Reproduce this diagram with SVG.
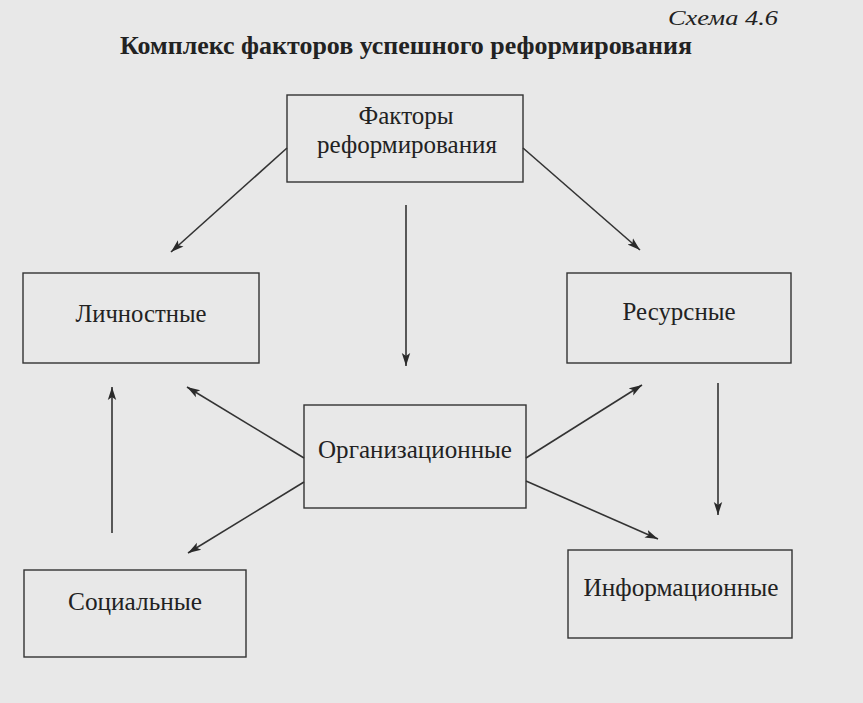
<svg xmlns="http://www.w3.org/2000/svg" width="863" height="703" viewBox="0 0 863 703">
<defs>
<marker id="ah" markerUnits="userSpaceOnUse" markerWidth="14" markerHeight="10" refX="13" refY="5" orient="auto">
<path d="M0,0.8 L13,5 L0,9.2 L3,5 Z" fill="#2a2a2a"/>
</marker>
</defs>
<style>
.box{fill:none;stroke:#333;stroke-width:1.4}
.lbl{font-family:"Liberation Serif","DejaVu Serif",serif;font-size:25px;fill:#222;text-anchor:middle}
.con{stroke:#333;stroke-width:1.6;fill:none;marker-end:url(#ah)}
</style>
<rect width="863" height="703" fill="#e8e8e8"/>
<text x="778" y="25" font-family="Liberation Serif, serif" font-style="italic" font-size="21" fill="#222" text-anchor="end" textLength="110" lengthAdjust="spacingAndGlyphs">Схема 4.6</text>
<text x="406" y="54" font-family="Liberation Serif, serif" font-weight="bold" font-size="25" fill="#222" text-anchor="middle" textLength="572" lengthAdjust="spacingAndGlyphs">Комплекс факторов успешного реформирования</text>
<g id="connectors">
<line class="con" x1="287" y1="148" x2="171" y2="252"/>
<line class="con" x1="523" y1="148" x2="640" y2="250"/>
<line class="con" x1="406" y1="205" x2="406" y2="366"/>
<line class="con" x1="304" y1="458" x2="187" y2="387"/>
<line class="con" x1="526" y1="458" x2="642" y2="385"/>
<line class="con" x1="304" y1="482" x2="188" y2="553"/>
<line class="con" x1="526" y1="481" x2="658" y2="539"/>
<line class="con" x1="112" y1="533" x2="112" y2="387"/>
<line class="con" x1="718" y1="383" x2="718" y2="515"/>
</g>
<g id="factors">
<rect class="box" x="287" y="95" width="236" height="87"/>
<text class="lbl" x="406" y="124" textLength="95" lengthAdjust="spacingAndGlyphs">Факторы</text>
<text class="lbl" x="407" y="153" textLength="180" lengthAdjust="spacingAndGlyphs">реформирования</text>
</g>
<g id="personal">
<rect class="box" x="23" y="273" width="236" height="90"/>
<text class="lbl" x="141" y="322" textLength="131" lengthAdjust="spacingAndGlyphs">Личностные</text>
</g>
<g id="resource">
<rect class="box" x="567" y="273" width="224" height="90"/>
<text class="lbl" x="679" y="320" textLength="113" lengthAdjust="spacingAndGlyphs">Ресурсные</text>
</g>
<g id="organizational">
<rect class="box" x="304" y="405" width="222" height="103"/>
<text class="lbl" x="415" y="458" textLength="194" lengthAdjust="spacingAndGlyphs">Организационные</text>
</g>
<g id="social">
<rect class="box" x="24" y="570" width="222" height="87"/>
<text class="lbl" x="135" y="610" textLength="134" lengthAdjust="spacingAndGlyphs">Социальные</text>
</g>
<g id="informational">
<rect class="box" x="568" y="550" width="224" height="88"/>
<text class="lbl" x="681" y="596" textLength="195" lengthAdjust="spacingAndGlyphs">Информационные</text>
</g>
</svg>
